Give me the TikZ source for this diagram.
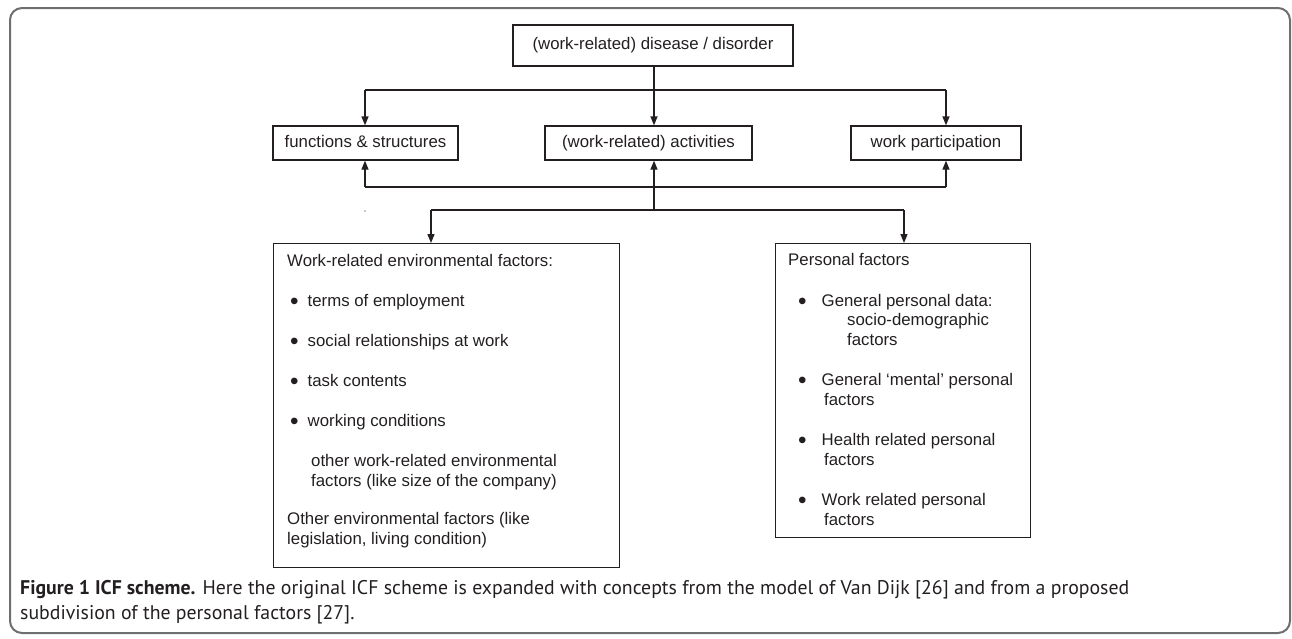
\documentclass[tikz,border=0pt]{standalone}
\usepackage{fontspec}
\setmainfont{Liberation Sans}
\newfontfamily\capfont{PT Sans}
\usetikzlibrary{arrows.meta,positioning,calc}

\definecolor{ink}{HTML}{231F20}
\definecolor{framegray}{HTML}{6D6E70}

\newcommand{\dotmark}{\raisebox{-0.17em}{\scalebox{1.45}{\textbullet}}}

\begin{document}
\begin{tikzpicture}[
    x=1pt, y=-1pt,
    boxfont/.style={text=ink, font=\fontsize{16.8}{20}\selectfont},
    level/.style={rectangle, draw=ink, line width=1.3pt, boxfont, inner sep=0pt, text height=12pt, text depth=3.5pt},
    factorbox/.style={rectangle, draw=ink, line width=1.3pt, anchor=north west, inner sep=0pt},
    listtext/.style={anchor=north west, align=left, inner sep=0pt, boxfont},
    flow/.style={draw=ink, line width=1.3pt, -{Triangle[length=9pt,width=7pt]}},
    joint/.style={draw=ink, line width=1.3pt}
]
\useasboundingbox (0,0) rectangle (1292,638);

% Outer frame
\draw[framegray, line width=2pt, rounded corners=12pt] (10,8) rectangle (1290,633);

% Disease and the three levels
\node[level, minimum width=280pt, minimum height=41pt] (disease) at (653,45.5) {(work-related) disease / disorder};
\node[level, minimum width=185pt, minimum height=34pt] (func) at (365.5,143) {functions \& structures};
\node[level, minimum width=207pt, minimum height=34pt] (acts) at (648.5,143) {(work-related) activities};
\node[level, minimum width=170pt, minimum height=34pt] (part) at (936,143) {work participation};

% Branch from disease to the levels
\coordinate (split) at (654,90);
\coordinate (splitL) at (365,90);
\coordinate (splitR) at (946,90);
\draw[flow] (disease.south -| split) -- (split |- acts.north);
\draw[joint] (splitL) -- (splitR);
\draw[flow] (splitL) -- (splitL |- func.north);
\draw[flow] (splitR) -- (splitR |- part.north);

% Factor boxes
\node[factorbox, minimum width=346pt, minimum height=324pt] (envbox) at (273,243) {};
\node[factorbox, minimum width=255pt, minimum height=294pt] (persbox) at (775,243) {};

\node[listtext] (envlist) at (287,254) {Work-related environmental factors:\\[20pt]
\hspace*{3pt}\dotmark\hspace{9pt}terms of employment\\[20pt]
\hspace*{3pt}\dotmark\hspace{9pt}social relationships at work\\[20pt]
\hspace*{3pt}\dotmark\hspace{9pt}task contents\\[20pt]
\hspace*{3pt}\dotmark\hspace{9pt}working conditions\\[20pt]
\hspace*{24pt}other work-related environmental\\
\hspace*{24pt}factors (like size of the company)\\[18pt]
Other environmental factors (like\\
legislation, living condition)};

\node[listtext] (perslist) at (788,253) {Personal factors\\[21pt]
\hspace*{10pt}\dotmark\hspace{15pt}General personal data:\\[-1pt]
\hspace*{59pt}socio-demographic\\
\hspace*{59pt}factors\\[20pt]
\hspace*{10pt}\dotmark\hspace{15pt}General `mental' personal\\
\hspace*{36pt}factors\\[20pt]
\hspace*{10pt}\dotmark\hspace{15pt}Health related personal\\
\hspace*{36pt}factors\\[20pt]
\hspace*{10pt}\dotmark\hspace{15pt}Work related personal\\
\hspace*{36pt}factors};

% Factors feed back to the levels
\coordinate (hub) at (654,210);
\coordinate (hubL) at (431,210);
\coordinate (hubR) at (904,210);
\coordinate (backL) at (365,187);
\coordinate (backR) at (946,187);
\draw[flow] (hub) -- (hub |- acts.south);
\draw[joint] (backL) -- (backR);
\draw[flow] (backL) -- (backL |- func.south);
\draw[flow] (backR) -- (backR |- part.south);
\draw[joint] (hubL) -- (hubR);
\draw[flow] (hubL) -- (hubL |- envbox.north);
\draw[flow] (hubR) -- (hubR |- persbox.north);
\fill[ink] (365,211) circle (0.7pt);

% Caption
\node[anchor=north west, align=left, inner sep=0pt, text=ink,
      font=\capfont\fontsize{19.8}{25}\selectfont] (caption) at (20,580)
  {\textbf{Figure 1 ICF scheme.} Here the original ICF scheme is expanded with concepts from the model of Van Dijk [26] and from a proposed\\
   subdivision of the personal factors [27].};
\end{tikzpicture}
\end{document}
